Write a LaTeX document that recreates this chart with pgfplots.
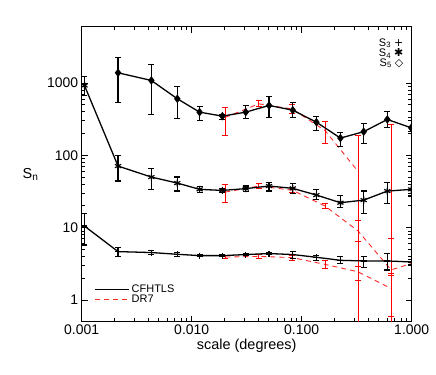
\documentclass[border=0pt]{standalone}
\usepackage{fontspec}
\setmainfont{Liberation Sans}
\newfontfamily\sym{DejaVu Sans}
\usepackage{pgfplots}
\pgfplotsset{compat=1.18}

\begin{document}
\begin{tikzpicture}
\begin{axis}[
    name=ax,
    xmode=log, ymode=log,
    scale only axis,
    width=330bp, height=295bp,
    xmin=0.001, xmax=1,
    ymin=0.5, ymax=6000,
    xtick={0.001,0.01,0.1,1},
    xticklabels={0.001,0.010,0.100,1.000},
    ytick={1,10,100,1000},
    yticklabels={1,10,100,1000},
    /pgf/number format/assume math mode=true,
    tick align=inside,
    major tick length=6bp, minor tick length=3.5bp,
    every tick/.style={black, line width=0.8pt},
    axis line style={line width=0.9pt},
    tick label style={font=\fontsize{14}{16}\selectfont},
    xlabel={scale (degrees)},
    xlabel style={font=\fontsize{14.5}{16}\selectfont, yshift=3bp},
    ylabel={S\textsubscript{n}},
    ylabel style={font=\fontsize{14.5}{16}\selectfont, rotate=-90,
        at={(axis description cs:-0.155,0.5)}, anchor=center},
    legend style={at={(axis description cs:0.035,0.135)}, anchor=north west,
        draw=none, fill=none, font=\fontsize{11}{12}\selectfont,
        row sep=-3bp, inner sep=1bp},
    legend cell align=left,
    clip marker paths=true,
]

% ---- DR7 (red dashed lines) ----
\addplot[red!85!white, dash pattern=on 5bp off 4bp, line width=0.9pt, forget plot] coordinates {
    (0.0202,335)(0.0407,515)(0.082,437)(0.163,220)(0.325,60)
};
\addplot[red!85!white, dash pattern=on 5bp off 4bp, line width=0.9pt, forget plot] coordinates {
    (0.0202,31)(0.0407,37.5)(0.082,33)(0.163,19.9)(0.325,9.0)(0.65,2.6)(1.28,3.6)
};
\addplot[red!85!white, dash pattern=on 5bp off 4bp, line width=0.9pt, forget plot] coordinates {
    (0.0202,3.92)(0.0407,4.0)(0.082,3.85)(0.163,3.1)(0.325,2.45)(0.65,1.44)
};

% DR7 error bars
\addplot[draw=none, mark=none, forget plot,
    error bars/.cd, y dir=both, y explicit,
    error mark options={draw=red, rotate=90, mark size=3bp, line width=0.9pt},
    error bar style={draw=red, solid, line width=0.9pt}] coordinates {
    (0.0202,335) += (0,119) -= (0,147)
    (0.0407,515) += (0,58) -= (0,37)
    (0.082,437) += (0,68) -= (0,58)
    (0.163,220) += (0,71) -= (0,74)
    (0.325,60) += (0,128) -= (0,59.9)
    (0.65,134) += (0,133) -= (0,133.9)
    (0.0202,31) += (0,8.6) -= (0,8.9)
    (0.0407,37.5) += (0,3.4) -= (0,2.9)
    (0.082,33) += (0,2.7) -= (0,2.6)
    (0.163,19.9) += (0,1.8) -= (0,1.6)
    (0.325,9.0) += (0,3.7) -= (0,2.5)
    (0.65,2.6) += (0,4.5) -= (0,0.3)
    (0.0202,3.92) += (0,0.15) -= (0,0.15)
    (0.0407,4.0) += (0,0.28) -= (0,0.24)
    (0.082,3.85) += (0,0.3) -= (0,0.28)
    (0.163,3.1) += (0,0.43) -= (0,0.39)
    (0.325,2.45) += (0,0.5) -= (0,0.58)
    (0.65,1.44) += (0,0.75) -= (0,0.84)
};

% ---- CFHTLS (black solid with marks) ----
% S3
\addplot[black, line width=1.3pt, mark=+, mark size=3bp,
    mark options={solid, line width=1.2pt}, forget plot,
    error bars/.cd, y dir=both, y explicit,
    error mark options={black, rotate=90, mark size=3bp, line width=1.2pt},
    error bar style={black, line width=1.2pt}] coordinates {
    (0.00106,10.5) += (0,5.1) -= (0,4.75)
    (0.00214,4.66) += (0,0.64) -= (0,0.68)
    (0.0043,4.52) += (0,0.28) -= (0,0.27)
    (0.0074,4.28) += (0,0.22) -= (0,0.28)
    (0.0118,4.1) += (0,0.12) -= (0,0.12)
    (0.019,4.1) += (0,0.1) -= (0,0.1)
    (0.031,4.24) += (0,0.12) -= (0,0.12)
    (0.0505,4.38) += (0,0.15) -= (0,0.15)
    (0.083,4.24) += (0,0.45) -= (0,0.48)
    (0.136,3.89) += (0,0.21) -= (0,0.36)
    (0.225,3.53) += (0,0.44) -= (0,0.35)
    (0.366,3.46) += (0,0.51) -= (0,0.66)
    (0.60,3.46) += (0,0.96) -= (0,0.86)
    (0.99,3.35) += (0,0.3) -= (0,0.3)
};
% S4
\addplot[black, line width=1.3pt, mark=asterisk, mark size=3.5bp,
    mark options={solid, line width=1.2pt}, forget plot,
    error bars/.cd, y dir=both, y explicit,
    error mark options={black, rotate=90, mark size=3bp, line width=1.2pt},
    error bar style={black, line width=1.2pt}] coordinates {
    (0.00106,923) += (0,296) -= (0,251)
    (0.00214,71) += (0,29) -= (0,27)
    (0.0043,50) += (0,16) -= (0,16)
    (0.0074,41.3) += (0,8.7) -= (0,9.3)
    (0.0118,33.8) += (0,3) -= (0,3)
    (0.019,32.7) += (0,2) -= (0,2)
    (0.031,34.6) += (0,3) -= (0,3)
    (0.0505,37.6) += (0,5) -= (0,5.6)
    (0.083,34.9) += (0,6) -= (0,5)
    (0.136,28.2) += (0,5.6) -= (0,3.7)
    (0.225,22.1) += (0,5.7) -= (0,3.2)
    (0.366,24) += (0,8) -= (0,8.3)
    (0.60,32) += (0,10.6) -= (0,10.3)
    (0.99,33.8) += (0,10) -= (0,6.4)
};
% S5
\addplot[black, line width=1.3pt, mark=diamond*, mark size=3.5bp,
    mark options={solid, line width=1pt}, forget plot,
    error bars/.cd, y dir=both, y explicit,
    error mark options={black, rotate=90, mark size=3bp, line width=1.2pt},
    error bar style={black, line width=1.2pt}] coordinates {
    (0.00214,1383) += (0,847) -= (0,840)
    (0.0043,1083) += (0,717) -= (0,716)
    (0.0074,605) += (0,282) -= (0,285)
    (0.0118,395) += (0,83) -= (0,89)
    (0.019,348) += (0,22) -= (0,33)
    (0.031,395) += (0,95) -= (0,76)
    (0.0505,489) += (0,156) -= (0,159)
    (0.083,421) += (0,122) -= (0,91)
    (0.136,287) += (0,61) -= (0,64)
    (0.225,173) += (0,36) -= (0,42)
    (0.366,212) += (0,64) -= (0,66)
    (0.60,313) += (0,91) -= (0,73)
    (0.99,240) += (0,91) -= (0,24)
};

\addlegendimage{legend image code/.code={%
    \draw[black, line width=1.3pt] (0bp,0bp) -- (34bp,0bp);}}
\addlegendentry{CFHTLS}
\addlegendimage{legend image code/.code={%
    \draw[red!85!white, dash pattern=on 5bp off 4bp, line width=0.9pt] (0bp,0bp) -- (34bp,0bp);}}
\addlegendentry{DR7}

\node[anchor=east, font=\fontsize{11}{12}\selectfont, inner sep=0pt]
    at (rel axis cs:0.975,0.944) {S\textsubscript{3} {\sym +}};
\node[anchor=east, font=\fontsize{11}{12}\selectfont, inner sep=0pt]
    at (rel axis cs:0.975,0.910) {S\textsubscript{4} {\sym ✱}};
\node[anchor=east, font=\fontsize{11}{12}\selectfont, inner sep=0pt]
    at (rel axis cs:0.975,0.876) {S\textsubscript{5} {\sym ◇}};
\end{axis}
\pgfresetboundingbox
\path[use as bounding box] ([xshift=-81.7bp, yshift=-52.3bp]ax.south west)
    rectangle ([xshift=24.3bp, yshift=26.7bp]ax.north east);
\end{tikzpicture}
\end{document}
